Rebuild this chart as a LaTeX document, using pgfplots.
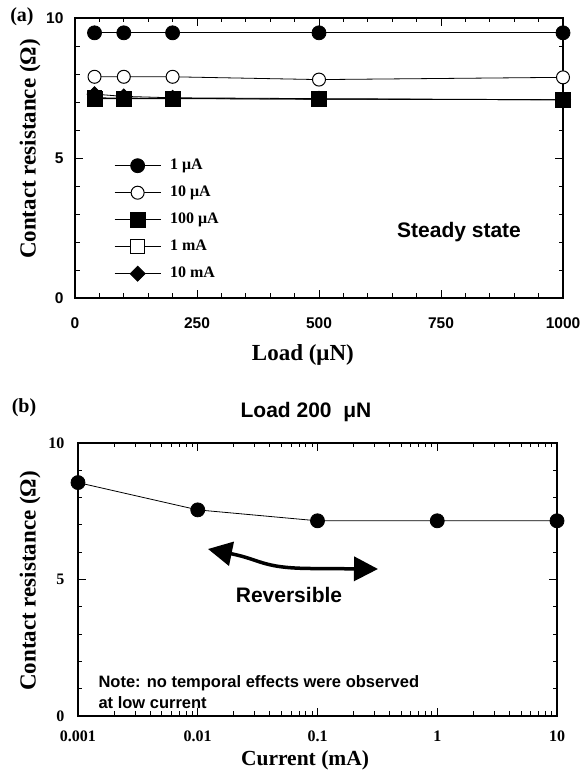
\documentclass[border=0pt]{standalone}
\usepackage{fontspec}
\setmainfont{Liberation Serif}
\newfontfamily\hv{Liberation Sans}
\usepackage{pgfplots}
\usepackage{pgfplotstable}
\pgfplotsset{compat=1.18}
\usetikzlibrary{arrows.meta}

% contact resistance (Ohm) versus load (uN), one column per current
\pgfplotstableread{
load r1uA r10uA r100uA r1mA r10mA
40   9.47 7.90 7.12 7.15 7.28
100  9.47 7.90 7.12 7.14 7.20
200  9.47 7.90 7.12 7.13 7.15
500  9.47 7.80 7.10 7.10 7.12
1000 9.47 7.88 7.08 7.08 7.08
}\steady

% contact resistance (Ohm) versus current (mA) at 200 uN
\pgfplotstableread{
I R
0.001 8.55
0.01  7.55
0.1   7.15
1     7.15
10    7.15
}\current

\pgfplotsset{
  panel/.style={
    scale only axis, anchor=south west, clip=false,
    tick align=inside, major tick length=8pt, minor tick length=4.5pt,
    tick style={black, line width=0.8pt},
    axis line style={line width=1.1pt},
    ymin=0, ymax=10, ytick={0,5,10}, minor y tick num=4,
    label style={font=\bfseries\fontsize{23}{25}\selectfont},
    /pgf/number format/assume math mode=true,
    /pgf/number format/1000 sep={},
  },
  series/.style={black, line width=0.8pt},
  fullcirc/.style={mark=*, mark size=7pt, mark options={solid, fill=black, draw=black}},
  opencirc/.style={mark=*, mark size=6.5pt, mark options={solid, fill=white, draw=black, line width=1pt}},
  fullsq/.style={mark=square*, mark size=7.5pt, mark options={solid, fill=black, draw=black}},
  opensq/.style={mark=square*, mark size=7pt, mark options={solid, fill=white, draw=black, line width=1pt}},
  fulldia/.style={mark=square*, mark size=5.3pt, mark options={solid, fill=black, draw=black, rotate=45}},
}

\begin{document}
\begin{tikzpicture}
\path[use as bounding box] (0,0) rectangle (588pt,770pt);

% ---------- (a) steady state ----------
\begin{axis}[panel,
  at={(75pt,472pt)}, width=488pt, height=280pt,
  xmin=0, xmax=1000, xtick={0,250,500,750,1000}, minor x tick num=4,
  ticklabel style={font=\hv\bfseries\fontsize{15.5}{15.5}\selectfont},
  xticklabel style={yshift=-16pt},
  yticklabel style={xshift=-8pt},
  xlabel={Load (μN)}, ylabel={Contact resistance (Ω)},
  xlabel style={at={(rel axis cs:0.467,-0.204)}, anchor=center},
  ylabel style={at={(rel axis cs:-0.092,0.532)}, anchor=center},
  legend style={at={(rel axis cs:0.08,0.5)}, anchor=north west,
    draw=none, fill=none, inner sep=0pt,
    font=\bfseries\fontsize{16}{16}\selectfont,
    row sep=12pt, nodes={inner sep=0pt, text height=11pt, text depth=4pt},
    /tikz/every odd column/.append style={column sep=9pt}},
  legend cell align=left,
  legend image code/.code={\draw[mark repeat=2,mark phase=2,#1]
    plot coordinates {(0pt,0pt) (23pt,0pt) (46pt,0pt)};},
]
\addlegendimage{series, fullcirc}\addlegendentry{1 μA}
\addlegendimage{series, opencirc}\addlegendentry{10 μA}
\addlegendimage{series, fullsq}\addlegendentry{100 μA}
\addlegendimage{series, opensq}\addlegendentry{1 mA}
\addlegendimage{series, fulldia}\addlegendentry{10 mA}

\addplot[series, opensq, forget plot]  table[x=load, y=r1mA]   {\steady};
\addplot[series, fulldia, forget plot] table[x=load, y=r10mA]  {\steady};
\addplot[series, fullsq, forget plot]  table[x=load, y=r100uA] {\steady};
\addplot[series, opencirc, forget plot] table[x=load, y=r10uA] {\steady};
\addplot[series, fullcirc, forget plot] table[x=load, y=r1uA]  {\steady};

\node[font=\hv\bfseries\fontsize{21}{21}\selectfont] at (axis cs:787,2.36) {Steady state};
\end{axis}
\node[font=\bfseries\fontsize{20}{20}\selectfont] at (22pt,753pt) {(a)};

% ---------- (b) current dependence ----------
\begin{axis}[panel,
  at={(78pt,54pt)}, width=479pt, height=273pt,
  xmode=log, xmin=0.001, xmax=10,
  xtick={0.001,0.01,0.1,1,10}, xticklabels={0.001,0.01,0.1,1,10},
  ticklabel style={font=\bfseries\fontsize{16}{16}\selectfont},
  xticklabel style={yshift=-11pt},
  yticklabel style={xshift=-10pt},
  xlabel={Current (mA)}, ylabel={Contact resistance (Ω)},
  xlabel style={at={(rel axis cs:0.474,-0.163)}, anchor=center,
    font=\bfseries\fontsize{21.5}{23}\selectfont},
  ylabel style={at={(rel axis cs:-0.1,0.495)}, anchor=center},
  title={Load 200\ \ μN},
  title style={at={(rel axis cs:0.476,1.092)}, anchor=center,
    font=\hv\bfseries\fontsize{21}{21}\selectfont},
]
\addplot[series, fullcirc] table[x=I, y=R] {\current};
\end{axis}
\node[font=\bfseries\fontsize{20}{20}\selectfont] at (24pt,362pt) {(b)};

% reversible double arrow
\draw[line width=3.5pt, {Triangle[length=24pt,width=24pt]}-{Triangle[length=24pt,width=24pt]}]
  (208pt,221pt) .. controls (262pt,210pt) and (262pt,202pt) .. (310pt,201.5pt) -- (378pt,201pt);
\node[font=\hv\bfseries\fontsize{21}{21}\selectfont] at (289pt,175pt) {Reversible};
\node[anchor=base west, font=\hv\bfseries\fontsize{16.5}{16.5}\selectfont] at (95pt,82pt)
  {Note: no temporal effects were observed};
\node[anchor=base west, font=\hv\bfseries\fontsize{16.5}{16.5}\selectfont] at (95pt,61pt)
  {at low current};
\end{tikzpicture}
\end{document}
